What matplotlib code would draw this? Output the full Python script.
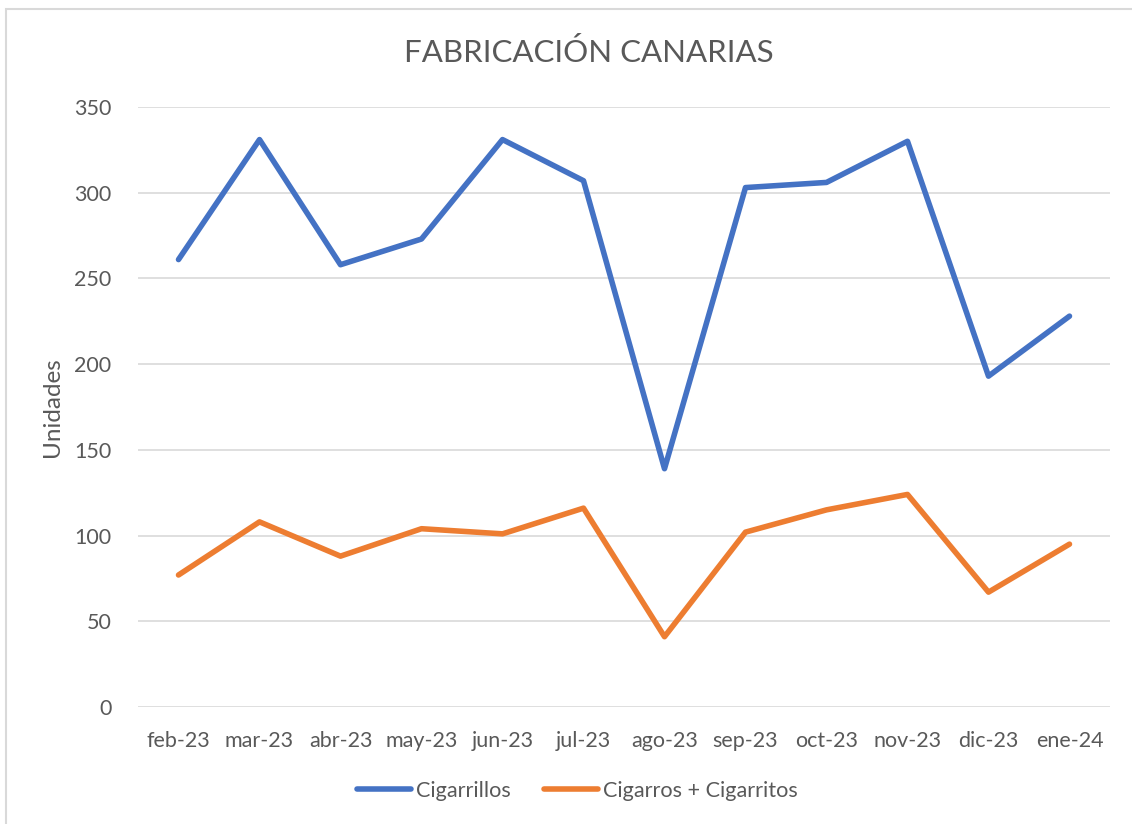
import matplotlib
matplotlib.use("Agg")
import matplotlib.pyplot as plt
from matplotlib.patches import Rectangle

meses = ["feb-23", "mar-23", "abr-23", "may-23", "jun-23", "jul-23",
         "ago-23", "sep-23", "oct-23", "nov-23", "dic-23", "ene-24"]
cigarrillos = [261, 331, 258, 273, 331, 307, 139, 303, 306, 330, 193, 228]
cigarros = [77, 108, 88, 104, 101, 116, 41, 102, 115, 124, 67, 95]

TXT = "#595959"
plt.rcParams["font.family"] = ["Lato", "DejaVu Sans"]

fig = plt.figure(figsize=(11.32, 8.24), dpi=100)
ax = fig.add_axes([138 / 1132, 1 - 707 / 824, 972 / 1132, 600 / 824])

x = range(len(meses))
ax.plot(x, cigarrillos, color="#4472C4", lw=4.0, label="Cigarrillos", solid_joinstyle="round", solid_capstyle="round")
ax.plot(x, cigarros, color="#ED7D31", lw=4.0, label="Cigarros + Cigarritos", solid_joinstyle="round", solid_capstyle="round")

ax.set_xlim(-0.5, len(meses) - 0.5)
ax.set_ylim(0, 350)
ax.set_yticks(range(0, 351, 50))
ax.set_xticks(list(x))
ax.set_xticklabels(meses)
ax.grid(axis="y", color="#D9D9D9", lw=1.2)
ax.set_axisbelow(True)
for s in ax.spines.values():
    s.set_visible(False)
ax.tick_params(length=0, labelsize=15.5, colors=TXT, pad=17)
ax.tick_params(axis="y", pad=19)
ax.set_ylabel("Unidades", fontsize=17.5, color=TXT, labelpad=8)

fig.text(0.52, 1 - 52 / 824, "FABRICACIÓN CANARIAS", ha="center", va="center", fontsize=22.5, color=TXT)

fig.legend(loc="center", bbox_to_anchor=(0.51, 1 - 791 / 824), ncol=2, frameon=False,
           fontsize=15.6, labelcolor=TXT, handlelength=2.5, handletextpad=0.25, columnspacing=1.5)

fig.add_artist(Rectangle((6 / 1132, -0.1), 2, 1.1 - 9 / 824, transform=fig.transFigure,
                         fill=False, edgecolor="#D9D9D9", lw=1.5))

fig.savefig("out.png", dpi=100)
